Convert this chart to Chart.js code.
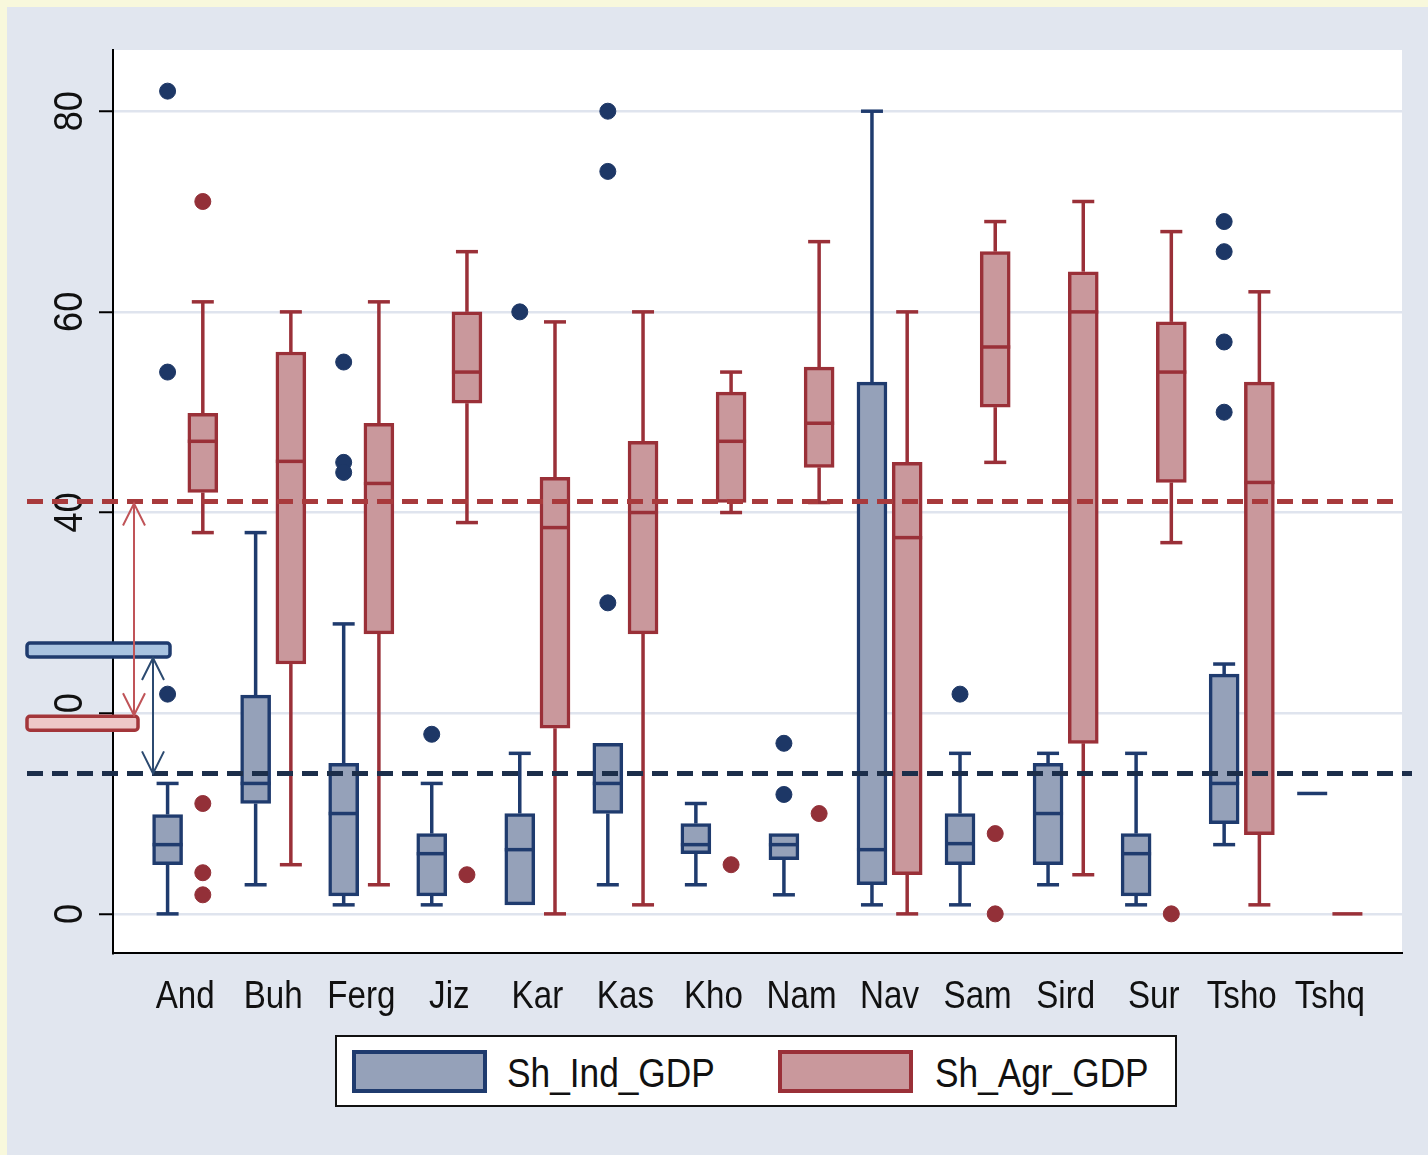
<!DOCTYPE html>
<html>
<head>
<meta charset="utf-8">
<script src="https://cdn.jsdelivr.net/npm/chart.js@4.4.1/dist/chart.umd.min.js"></script>
<style>
  html, body { margin: 0; padding: 0; background: #e1e6ef; }
  #wrap { position: relative; width: 1428px; height: 1155px; overflow: hidden; }
  #c { position: absolute; left: 0; top: 0; }
  .legend { position: absolute; left: 335px; top: 1035px; width: 838px; height: 68px;
            background: #fff; border: 2px solid #111; }
  .sw { position: absolute; top: 13px; width: 127px; height: 35px; border: 4px solid; }
  .lt { position: absolute; top: 13px; line-height: 41px; font: 41px "Liberation Sans", Arial, sans-serif;
        color: #111; transform: scaleX(.86); transform-origin: left top; white-space: nowrap; }
</style>
</head>
<body>
<div id="wrap">
  <canvas id="c" width="1428" height="1155"></canvas>
  <div class="legend">
    <div class="sw" style="left:15px;background:#95a1b9;border-color:#1f3b6e"></div>
    <div class="lt" style="left:170px">Sh_Ind_GDP</div>
    <div class="sw" style="left:441px;background:#c9989c;border-color:#9a3038"></div>
    <div class="lt" style="left:598px">Sh_Agr_GDP</div>
  </div>
</div>
<script>
// ---- datos ----
const categories = ['And','Buh','Ferg','Jiz','Kar','Kas','Kho','Nam','Nav','Sam','Sird','Sur','Tsho','Tshq'];
const yTicks = [0, 20, 40, 60, 80];

// Sh_Ind_GDP
const indMin = [0,   2.9, 0.9, 0.9, 0.9, 2.9, 2.9, 1.9, 0.9, 0.9, 2.9, 0.9, 6.9, 12];
const indQ1  = [4.9, 11,  1.8, 1.8, 0.9, 10,  6,   5.4, 2.9, 4.9, 4.9, 1.8, 9,   12];
const indMed = [6.9, 13,  10,  6,   6.4, 13,  6.9, 6.9, 6.4, 7,   10,  6,   13,  12];
const indQ3  = [9.9, 21.8,15,  8,   10,  17,  9,   8,   53,  10,  15,  8,   23.9,12];
const indMax = [13,  38,  28.9,13,  16,  17,  11,  8,   80,  16,  16,  16,  24.9,12];
const indOutliers = [
  ['And',82],['And',54],['And',21.9],
  ['Ferg',55],['Ferg',45],['Ferg',44],
  ['Jiz',17.9],['Kar',60],
  ['Kas',80],['Kas',74],['Kas',31],
  ['Nam',17],['Nam',11.9],['Sam',21.9],
  ['Tsho',69],['Tsho',66],['Tsho',57],['Tsho',50]
];

// Sh_Agr_GDP
const agrMin = [38,  4.9, 2.9, 39,  0,   0.9, 40,  41,  0,   45,  3.9, 37, 0.9, 0];
const agrQ1  = [42,  24.9,27.9,50.9,18.5,27.9,41,  44.5,3.9, 50.5,17,  43, 7.9, 0];
const agrMed = [47.1,45.1,42.9,54,  38.5,40,  47.1,48.9,37.5,56.5,60,  54, 43,  0];
const agrQ3  = [49.9,56,  48.9,60,  43.5,47.1,52,  54.5,45,  66,  64,  59, 53,  0];
const agrMax = [61,  60,  61,  66,  59,  60,  54,  67,  60,  69,  71,  68, 62,  0];
const agrOutliers = [
  ['And',71],['And',11],['And',4.1],['And',1.9],
  ['Jiz',3.9],['Kho',4.9],['Nam',10],
  ['Sam',8],['Sam',0],['Sur',0]
];

// líneas de referencia y marcas del margen izquierdo
const refAgr = 41.1;
const refInd = 14.0;
const markInd = 26.3;
const markAgr = 19.0;

// ---- estilo ----
const IND_FILL = '#95a1b9', IND_LINE = '#1f3b6e', IND_DOT = '#1d3766';
const AGR_FILL = '#c9989c', AGR_LINE = '#9a3038', AGR_DOT = '#933038';
const OFF = 0.2;          // desplazamiento de cada serie dentro de la categoría
const BOX_W = 30, CAP_W = 22, LW = 3.5;

const pos = (i, side) => i + 1 + side * OFF;
const catIdx = name => categories.indexOf(name);

const boxData = (q1, q3, side) => categories.map((c, i) => ({ x: pos(i, side), y: [q1[i], q3[i]] }));
const dotData = (list, side) => list.map(([c, v]) => ({ x: pos(catIdx(c), side), y: v }));

// ---- plugin: fondo, bigotes, medianas, etiquetas, anotaciones ----
const series = [
  { side: -1, min: indMin, q1: indQ1, med: indMed, q3: indQ3, max: indMax, line: IND_LINE },
  { side:  1, min: agrMin, q1: agrQ1, med: agrMed, q3: agrQ3, max: agrMax, line: AGR_LINE },
];

function vLine(ctx, x, y1, y2) { ctx.beginPath(); ctx.moveTo(x, y1); ctx.lineTo(x, y2); ctx.stroke(); }
function hLine(ctx, x1, x2, y) { ctx.beginPath(); ctx.moveTo(x1, y); ctx.lineTo(x2, y); ctx.stroke(); }

function arrow(ctx, x, yTop, yBot, color) {
  ctx.save();
  ctx.strokeStyle = color; ctx.lineWidth = 2;
  vLine(ctx, x, yTop, yBot);
  ctx.beginPath();
  ctx.moveTo(x - 11, yTop + 22); ctx.lineTo(x, yTop); ctx.lineTo(x + 11, yTop + 22);
  ctx.moveTo(x - 11, yBot - 22); ctx.lineTo(x, yBot); ctx.lineTo(x + 11, yBot - 22);
  ctx.stroke();
  ctx.restore();
}

const boxParts = {
  id: 'boxParts',
  beforeDraw(chart) {
    const { ctx, chartArea: a, width, height } = chart;
    ctx.save();
    ctx.fillStyle = '#f8f8dc'; ctx.fillRect(0, 0, width, height);
    ctx.fillStyle = '#e1e6ef'; ctx.fillRect(7, 7, width - 7, height - 7);
    ctx.fillStyle = '#ffffff'; ctx.fillRect(a.left, a.top, a.right - a.left, a.bottom - a.top);
    ctx.restore();
  },
  beforeDatasetsDraw(chart) {
    const { ctx, scales: { x, y } } = chart;
    ctx.save();
    ctx.lineWidth = LW;
    series.forEach(s => {
      ctx.strokeStyle = s.line;
      categories.forEach((c, i) => {
        const px = x.getPixelForValue(pos(i, s.side));
        if (s.max[i] > s.q3[i]) {
          vLine(ctx, px, y.getPixelForValue(s.q3[i]), y.getPixelForValue(s.max[i]));
          hLine(ctx, px - CAP_W / 2, px + CAP_W / 2, y.getPixelForValue(s.max[i]));
        }
        if (s.min[i] < s.q1[i]) {
          vLine(ctx, px, y.getPixelForValue(s.q1[i]), y.getPixelForValue(s.min[i]));
          hLine(ctx, px - CAP_W / 2, px + CAP_W / 2, y.getPixelForValue(s.min[i]));
        }
      });
    });
    ctx.restore();
  },
  afterDatasetsDraw(chart) {
    const { ctx, scales: { x, y } } = chart;
    ctx.save();
    ctx.lineWidth = LW;
    series.forEach(s => {
      ctx.strokeStyle = s.line;
      categories.forEach((c, i) => {
        const px = x.getPixelForValue(pos(i, s.side));
        hLine(ctx, px - BOX_W / 2, px + BOX_W / 2, y.getPixelForValue(s.med[i]));
      });
    });
    ctx.restore();
  },
  afterDraw(chart) {
    const { ctx, chartArea: a, scales: { x, y } } = chart;
    ctx.save();
    ctx.fillStyle = '#111';
    // etiquetas del eje Y (giradas)
    ctx.font = '40px "Liberation Sans", Arial, sans-serif';
    ctx.textAlign = 'center'; ctx.textBaseline = 'alphabetic';
    yTicks.forEach(v => {
      ctx.save();
      ctx.translate(82, y.getPixelForValue(v));
      ctx.rotate(-Math.PI / 2);
      ctx.scale(0.9, 1);
      ctx.fillText(String(v), 0, 0);
      ctx.restore();
    });
    // etiquetas del eje X
    ctx.font = '39px "Liberation Sans", Arial, sans-serif';
    categories.forEach((c, i) => {
      ctx.save();
      ctx.translate(x.getPixelForValue(i + 1), 1008);
      ctx.scale(0.85, 1);
      ctx.fillText(c, 0, 0);
      ctx.restore();
    });
    // líneas discontinuas de referencia
    ctx.lineWidth = 5; ctx.setLineDash([16, 9]);
    ctx.strokeStyle = '#a83a3c';
    hLine(ctx, 27, 1398, y.getPixelForValue(refAgr));
    ctx.strokeStyle = '#1c2e4a';
    hLine(ctx, 27, 1412, y.getPixelForValue(refInd));
    ctx.setLineDash([]);
    // marcas del margen
    const yi = y.getPixelForValue(markInd), ya = y.getPixelForValue(markAgr);
    ctx.lineWidth = 3.5;
    ctx.fillStyle = '#a9c3e0'; ctx.strokeStyle = '#1f3b6e';
    ctx.beginPath(); ctx.roundRect(27, yi - 7, 143, 14, 3); ctx.fill(); ctx.stroke();
    ctx.fillStyle = '#eec8c8'; ctx.strokeStyle = '#a3363a';
    ctx.beginPath(); ctx.roundRect(27, ya - 7, 111, 14, 3); ctx.fill(); ctx.stroke();
    arrow(ctx, 134, y.getPixelForValue(refAgr) + 2, ya - 8, '#c05458');
    arrow(ctx, 153, yi + 8, y.getPixelForValue(refInd), '#2c4a70');
    ctx.restore();
  }
};

// ---- Chart.js ----
const chart = new Chart(document.getElementById('c'), {
  type: 'bar',
  data: {
    datasets: [
      { label: 'Sh_Ind_GDP', data: boxData(indQ1, indQ3, -1), backgroundColor: IND_FILL,
        borderColor: IND_LINE, borderWidth: LW, borderSkipped: false, barThickness: BOX_W, grouped: false },
      { label: 'Sh_Agr_GDP', data: boxData(agrQ1, agrQ3, 1), backgroundColor: AGR_FILL,
        borderColor: AGR_LINE, borderWidth: LW, borderSkipped: false, barThickness: BOX_W, grouped: false },
      { type: 'scatter', data: dotData(indOutliers, -1), backgroundColor: IND_DOT, borderColor: IND_DOT,
        pointRadius: 8, borderWidth: 1 },
      { type: 'scatter', data: dotData(agrOutliers, 1), backgroundColor: AGR_DOT, borderColor: AGR_DOT,
        pointRadius: 8, borderWidth: 1 },
    ]
  },
  options: {
    responsive: false,
    animation: false,
    layout: { padding: { left: 99, top: 50, right: 26, bottom: 202 } },
    plugins: { legend: { display: false }, tooltip: { enabled: false } },
    scales: {
      x: {
        type: 'linear', min: 0.18, max: 14.82, offset: false,
        ticks: { display: false },
        grid: { display: false, drawTicks: false, offset: false },
        border: { color: '#000', width: 2 },
        afterBuildTicks: s => { s.ticks = categories.map((c, i) => ({ value: i + 1 })); }
      },
      y: {
        min: -3.9, max: 86.1,
        ticks: { display: false },
        grid: { color: '#dfe4ee', lineWidth: 2.5, drawTicks: true, tickLength: 14, tickColor: '#000', tickWidth: 2 },
        border: { color: '#000', width: 2 },
        afterBuildTicks: s => { s.ticks = yTicks.map(v => ({ value: v })); }
      }
    }
  },
  plugins: [boxParts]
});
</script>
</body>
</html>
